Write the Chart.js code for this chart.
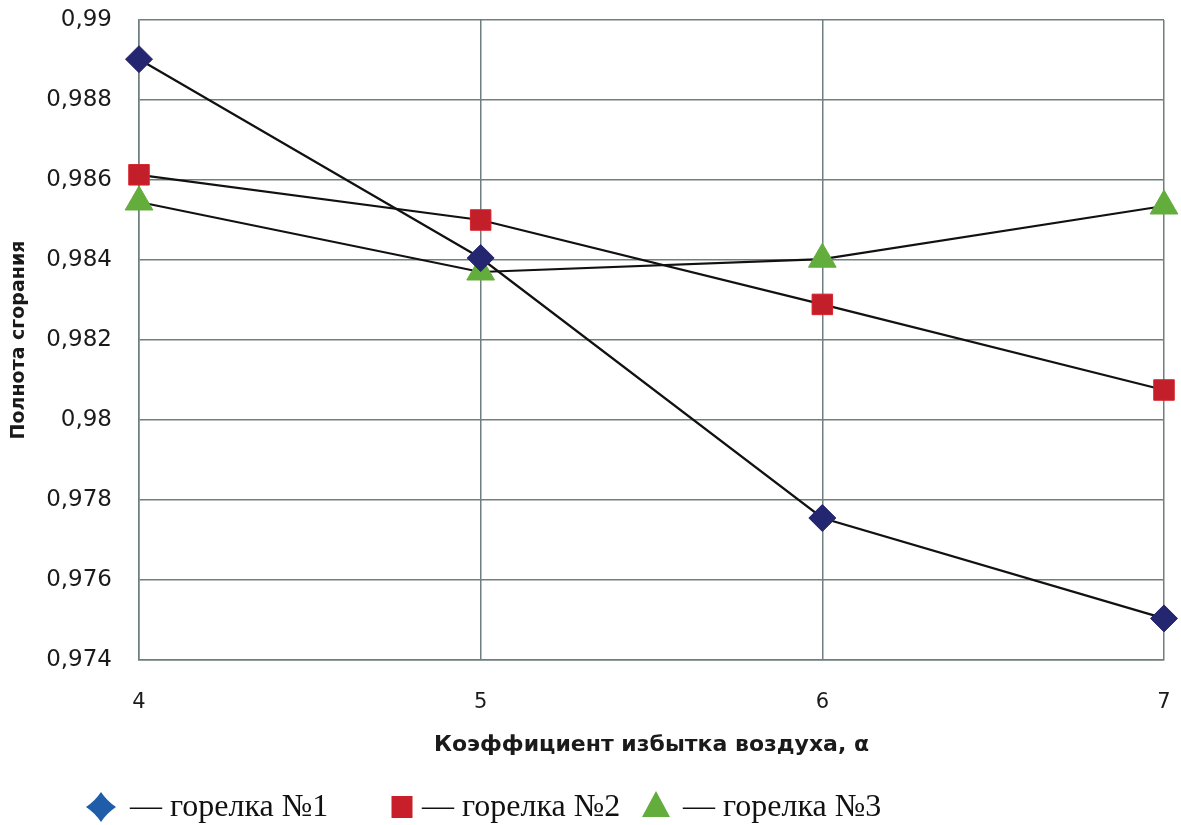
<!DOCTYPE html>
<html>
<head>
<meta charset="utf-8">
<script src="https://cdn.jsdelivr.net/npm/chart.js@4/dist/chart.umd.min.js"></script>
<style>
  body { margin: 0; background: #fff; }
  #wrap { width: 1181px; height: 825px; position: relative; }
</style>
</head>
<body>
<div id="wrap"><canvas id="fullnessChart"></canvas></div>
<script>
// excess air coefficient (x) and combustion completeness for the three burners
const xValues = [4, 5, 6, 7];
const burner1 = [0.98902, 0.98405, 0.97755, 0.97504];
const burner2 = [0.98613, 0.98500, 0.98289, 0.98075];
const burner3 = [0.98545, 0.98370, 0.98402, 0.98535];
const seriesNames = ["— горелка №1", "— горелка №2", "— горелка №3"];
const yTicks = [0.974, 0.976, 0.978, 0.98, 0.982, 0.984, 0.986, 0.988, 0.99];
const yTickLabels = ["0,974", "0,976", "0,978", "0,98", "0,982", "0,984", "0,986", "0,988", "0,99"];
const xTickLabels = ["4", "5", "6", "7"];

Chart.defaults.font.family = "'DejaVu Sans', Verdana, sans-serif";
Chart.defaults.color = "#1a1a1a";

function toPoints(values) {
    return xValues.map((x, i) => ({ x: x, y: values[i] }));
}

const gridColor = "#6f7e7e";

// legend drawn by hand, below the axis title
const bottomLegend = {
    id: "bottomLegend",
    afterDraw(chart) {
        const ctx = chart.ctx;
        const items = [
            { x: 101, y: 807, textX: 130, shape: "diamond", color: "#1f5dab" },
            { x: 402, y: 807, textX: 422, shape: "square", color: "#c8202b" },
            { x: 656, y: 807, textX: 683, shape: "triangle", color: "#62ad3c" },
        ];
        ctx.save();
        items.forEach((item, i) => {
            const x = item.x, y = item.y;
            ctx.fillStyle = item.color;
            ctx.beginPath();
            if (item.shape === "diamond") {
                ctx.moveTo(x, y - 15);
                ctx.quadraticCurveTo(x + 6, y - 6, x + 15, y);
                ctx.quadraticCurveTo(x + 6, y + 6, x, y + 15);
                ctx.quadraticCurveTo(x - 6, y + 6, x - 15, y);
                ctx.quadraticCurveTo(x - 6, y - 6, x, y - 15);
            } else if (item.shape === "square") {
                ctx.rect(x - 10.5, y - 11, 21, 22);
            } else {
                ctx.moveTo(x, y - 16);
                ctx.lineTo(x + 14, y + 10);
                ctx.lineTo(x - 14, y + 10);
                ctx.closePath();
            }
            ctx.fill();
            ctx.fillStyle = "#111";
            ctx.font = "32px 'Liberation Serif', 'Times New Roman', serif";
            ctx.textBaseline = "alphabetic";
            ctx.textAlign = "left";
            ctx.fillText(seriesNames[i], item.textX, 816);
        });
        ctx.restore();
    }
};

const ctx = document.getElementById("fullnessChart").getContext("2d");

const fullnessChart = new Chart(ctx, {
    type: "line",
    data: {
        datasets: [
            {
                label: seriesNames[0],
                data: toPoints(burner1),
                borderColor: "#111",
                borderWidth: 2.2,
                clip: false,
                pointStyle: "rectRot",
                pointRadius: 13.5,
                pointHoverRadius: 13.5,
                pointBackgroundColor: "#24276f",
                pointBorderColor: "#24276f",
                pointBorderWidth: 1,
            },
            {
                label: seriesNames[1],
                data: toPoints(burner2),
                borderColor: "#111",
                borderWidth: 2.2,
                clip: false,
                pointStyle: "rect",
                pointRadius: 14.5,
                pointHoverRadius: 14.5,
                pointBackgroundColor: "#c21f2a",
                pointBorderColor: "#d8232d",
                pointBorderWidth: 1,
            },
            {
                label: seriesNames[2],
                data: toPoints(burner3),
                borderColor: "#111",
                borderWidth: 2.2,
                clip: false,
                pointStyle: "triangle",
                pointRadius: 16,
                pointHoverRadius: 16,
                pointBackgroundColor: "#62ad3c",
                pointBorderColor: "#62ad3c",
                pointBorderWidth: 1,
            },
        ],
    },
    options: {
        responsive: true,
        maintainAspectRatio: false,
        animation: false,
        layout: {
            padding: { left: 0, top: 20, right: 13, bottom: 65 },
        },
        plugins: {
            legend: { display: false },
            tooltip: { enabled: false },
        },
        scales: {
            x: {
                type: "linear",
                min: 4,
                max: 7,
                afterBuildTicks: (scale) => {
                    scale.ticks = xValues.map((v) => ({ value: v }));
                },
                afterFit: (scale) => {
                    scale.height = 100;
                    scale.paddingLeft = 0;
                    scale.paddingRight = 0;
                },
                ticks: {
                    padding: 30,
                    font: { size: 21 },
                    callback: (value, index) => xTickLabels[index],
                },
                grid: {
                    color: gridColor,
                    lineWidth: 1.5,
                    drawTicks: false,
                },
                border: { color: gridColor, width: 1.5 },
                title: {
                    display: true,
                    text: "Коэффициент избытка воздуха, α",
                    font: { size: 22, weight: "bold" },
                    padding: { top: 0, bottom: 2 },
                },
            },
            y: {
                min: 0.974,
                max: 0.99,
                afterBuildTicks: (scale) => {
                    scale.ticks = yTicks.map((v) => ({ value: v }));
                },
                afterFit: (scale) => {
                    scale.width = 139;
                    scale.paddingTop = 0;
                    scale.paddingBottom = 0;
                },
                ticks: {
                    padding: 27,
                    font: { size: 23 },
                    callback: (value, index) => yTickLabels[index],
                },
                grid: {
                    color: gridColor,
                    lineWidth: 1.5,
                    drawTicks: false,
                },
                border: { color: gridColor, width: 1.5 },
                title: {
                    display: true,
                    text: "Полнота сгорания",
                    font: { size: 19, weight: "bold" },
                    padding: { top: 8, bottom: 0 },
                },
            },
        },
    },
    plugins: [bottomLegend],
});
</script>
</body>
</html>
